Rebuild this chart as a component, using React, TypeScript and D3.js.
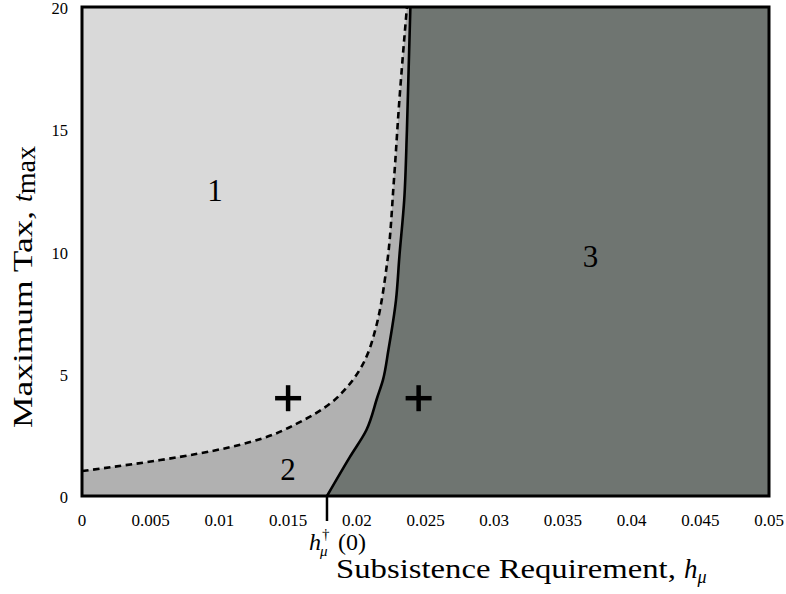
import * as d3 from 'd3';

const W = 786;
const H = 594;
const MARGIN = { top: 7, right: 17, bottom: 98, left: 82 };

// boundary between region 1 and region 2 (dashed)
const dashedX = [0, 0.0057, 0.0108, 0.0132, 0.0157, 0.0181, 0.0193, 0.0202, 0.0209, 0.0213, 0.0222, 0.0227, 0.0231, 0.02365];
const dashedY = [1.02, 1.47, 2.0, 2.37, 2.98, 3.8, 4.46, 5.15, 5.97, 6.7, 9.5, 12.9, 16.2, 20];

// boundary between region 2 and region 3 (solid)
const solidX = [0.01783, 0.0195, 0.0207, 0.0215, 0.0219, 0.0223, 0.02285, 0.0231, 0.02345, 0.02365, 0.0239];
const solidY = [0, 1.6, 2.7, 4.05, 4.74, 5.97, 8.0, 9.8, 12.1, 15, 20];

const xTicks = [0, 0.005, 0.01, 0.015, 0.02, 0.025, 0.03, 0.035, 0.04, 0.045, 0.05];
const yTicks = [0, 5, 10, 15, 20];

const regionLabels = ['1', '2', '3'];
const regionLabelX = [0.00968, 0.015, 0.037];
const regionLabelY = [12.5, 1.1, 9.8];

const plusX = [0.015, 0.0245];
const plusY = [4, 4];

const hDagger = 0.01783;

const COLORS = { r1: '#d9d9d9', r2: '#b1b1b1', r3: '#6f7571' };
const FONT = 'Liberation Serif, serif';

const App = () => {
  const bw = W - MARGIN.left - MARGIN.right;
  const bh = H - MARGIN.top - MARGIN.bottom;

  const x = d3.scaleLinear().domain([0, 0.05]).range([0, bw]);
  const y = d3.scaleLinear().domain([0, 20]).range([bh, 0]);

  const dashedPts: [number, number][] = dashedX.map((v, i) => [x(v), y(dashedY[i])]);
  const solidPts: [number, number][] = solidX.map((v, i) => [x(v), y(solidY[i])]);

  const curve = d3.line().curve(d3.curveMonotoneY);
  const dashedD = curve(dashedPts) ?? '';
  const solidD = curve(solidPts) ?? '';

  // region 1: left of dashed
  const r1D = dashedD + `L${x(0)},${y(20)}Z`;
  // region 3: right of solid
  const r3D = solidD + `L${x(0.05)},${y(20)}L${x(0.05)},${y(0)}Z`;

  const hx = x(hDagger);

  return (
    <div style={{ position: 'absolute', left: 0, top: 0 }}>
      <svg width={W} height={H} style={{ display: 'block' }}>
        <g transform={`translate(${MARGIN.left},${MARGIN.top})`}>
          <rect x={0} y={0} width={bw} height={bh} fill={COLORS.r2} />
          <path d={r1D} fill={COLORS.r1} />
          <path d={r3D} fill={COLORS.r3} />
          <path d={dashedD} fill="none" stroke="black" strokeWidth={2.6} strokeDasharray="6.5,4.5" />
          <path d={solidD} fill="none" stroke="black" strokeWidth={2.6} />
          <rect x={0} y={0} width={bw} height={bh} fill="none" stroke="black" strokeWidth={3} />

          {/* tick labels */}
          {xTicks.map((t) => (
            <text key={'x' + t} x={x(t)} y={bh + 30} textAnchor="middle" fontFamily={FONT} fontSize={17}>
              {d3.format('~g')(t)}
            </text>
          ))}
          {yTicks.map((t) => (
            <text key={'y' + t} x={-14} y={y(t) + 7} textAnchor="end" fontFamily={FONT} fontSize={16.5}>
              {t}
            </text>
          ))}

          {/* h dagger marker */}
          <line x1={hx} x2={hx} y1={bh} y2={bh + 25} stroke="black" strokeWidth={2.5} />
          <text y={bh + 54} fontFamily={FONT} fontSize={24}>
            <tspan x={hx - 18} fontStyle="italic">h</tspan>
            <tspan x={hx - 5} fontSize={15} dy={-11}>†</tspan>
            <tspan x={hx - 7} fontSize={15} fontStyle="italic" dy={17}>μ</tspan>
            <tspan x={hx + 11} dy={-6}>(0)</tspan>
          </text>

          {/* region numbers */}
          {regionLabels.map((l, i) => (
            <text key={l} x={x(regionLabelX[i])} y={y(regionLabelY[i]) + 11} textAnchor="middle" fontFamily={FONT} fontSize={31}>
              {l}
            </text>
          ))}

          {/* plus markers */}
          {plusX.map((px, i) => (
            <g key={'p' + i} transform={`translate(${x(px)},${y(plusY[i])})`}>
              <line x1={-13} x2={13} y1={0} y2={0} stroke="black" strokeWidth={4.5} />
              <line x1={0} x2={0} y1={-13} y2={13} stroke="black" strokeWidth={4.5} />
            </g>
          ))}
        </g>

        {/* axis titles */}
        <text x={336} y={578} fontFamily={FONT} fontSize={27}>
          <tspan textLength={348} lengthAdjust="spacingAndGlyphs">Subsistence Requirement, </tspan>
          <tspan fontStyle="italic">h</tspan>
          <tspan fontStyle="italic" fontSize={18} dy={5}>μ</tspan>
        </text>
        <text transform="translate(32,428) rotate(-90)" fontFamily={FONT} fontSize={28}>
          <tspan textLength={226} lengthAdjust="spacingAndGlyphs">Maximum Tax, </tspan>
          <tspan fontStyle="italic">t</tspan>
          <tspan dy={3}>max</tspan>
        </text>
      </svg>
    </div>
  );
};

export default App;
